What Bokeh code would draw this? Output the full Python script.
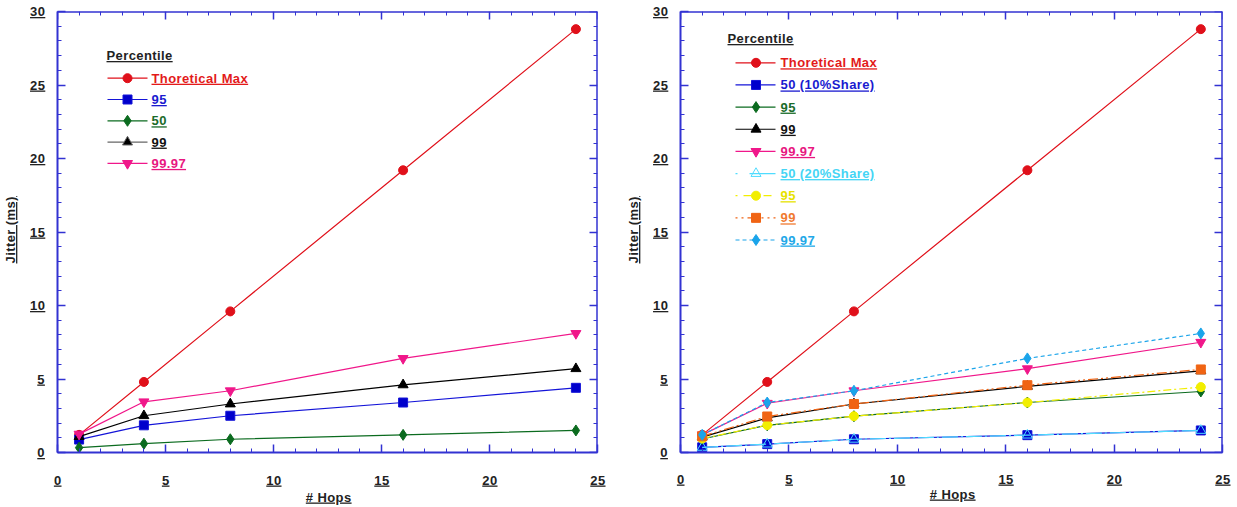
from bokeh.plotting import figure
from bokeh.models import Range1d, LinearAxis, SingleIntervalTicker, FixedTicker, CustomJS
from bokeh.layouts import row
from bokeh.document import Document
from bokeh.events import DocumentReady
from bokeh.embed import file_html
from bokeh.resources import INLINE
from bokeh.core.properties import value

# ---------------- data ----------------
hops = [1, 4, 8, 16, 24]
theoretical_max = [1.2, 4.8, 9.6, 19.2, 28.8]

# left chart
left_p95 = [0.88, 1.85, 2.5, 3.4, 4.4]
left_p50 = [0.33, 0.6, 0.9, 1.2, 1.5]
left_p99 = [1.08, 2.5, 3.3, 4.6, 5.7]
left_p9997 = [1.25, 3.45, 4.2, 6.4, 8.1]

# right chart, 10% share
r10_p50 = [0.35, 0.57, 0.9, 1.18, 1.5]
r10_p95 = [0.92, 1.85, 2.47, 3.4, 4.15]
r10_p99 = [1.05, 2.35, 3.3, 4.5, 5.55]
r10_p9997 = [1.2, 3.35, 4.2, 5.7, 7.5]
# right chart, 20% share
r20_p50 = [0.35, 0.57, 0.9, 1.18, 1.5]
r20_p95 = [0.95, 1.86, 2.47, 3.4, 4.45]
r20_p99 = [1.1, 2.45, 3.3, 4.58, 5.65]
r20_p9997 = [1.2, 3.4, 4.2, 6.4, 8.1]

x_title = "# Hops"
y_title = "Jitter (ms)"
legend_title = "Percentile"

# ---------------- style ----------------
FONT = "Liberation Sans"
AXIS_BLUE = "#3232d2"
DARK = "#222222"
FS_TICK = 13
FS_LEG = 13


def style_axis(ax):
    ax.axis_line_color = AXIS_BLUE
    ax.axis_line_width = 2
    ax.major_tick_line_color = AXIS_BLUE
    ax.major_tick_line_width = 1.5
    ax.minor_tick_line_color = AXIS_BLUE
    ax.minor_tick_line_width = 1
    ax.major_tick_in = 8
    ax.major_tick_out = 0
    ax.minor_tick_in = 4
    ax.minor_tick_out = 0
    ax.major_label_text_font = FONT
    ax.major_label_text_font_style = "bold"
    ax.major_label_text_color = DARK
    ax.major_label_text_font_size = f"{FS_TICK}px"
    ax.axis_label_text_font = FONT
    ax.axis_label_text_font_style = "bold"
    ax.axis_label_text_font_size = f"{FS_TICK}px"
    ax.axis_label_text_color = DARK


def mirror_axis(p, side, loc, positions, length):
    ax = LinearAxis(ticker=FixedTicker(ticks=[], minor_ticks=positions), fixed_location=loc)
    ax.axis_line_color = AXIS_BLUE
    ax.axis_line_width = 2
    ax.minor_tick_line_color = AXIS_BLUE
    ax.minor_tick_line_width = 1.5 if length > 5 else 1
    ax.minor_tick_in = length
    ax.minor_tick_out = 0
    ax.major_tick_in = 0
    ax.major_tick_out = 0
    ax.major_label_standoff = 0
    p.add_layout(ax, side)


def make_fig(fw, fh, left, top, right, bottom, xstand, xtitle_stand):
    p = figure(frame_width=fw, frame_height=fh, x_range=Range1d(0, 25), y_range=Range1d(0, 30),
               output_backend="svg", toolbar_location=None,
               min_border_left=left, min_border_top=top, min_border_right=right,
               min_border_bottom=bottom)
    p.outline_line_color = None
    p.grid.visible = False
    p.background_fill_color = "white"
    p.border_fill_color = "white"
    xa = p.xaxis[0]
    ya = p.yaxis[0]
    xa.ticker = SingleIntervalTicker(interval=5, num_minor_ticks=5)
    ya.ticker = SingleIntervalTicker(interval=5, num_minor_ticks=5)
    style_axis(xa)
    style_axis(ya)
    xa.major_label_standoff = xstand
    ya.major_label_standoff = 13
    xa.axis_label = x_title
    ya.axis_label = y_title
    xa.axis_label_standoff = xtitle_stand
    ya.axis_label_standoff = 9
    # mirrored tick marks on top and right edges (no labels)
    xs_minor = [v for v in range(0, 26) if v % 5]
    xs_major = [v for v in range(0, 26) if v % 5 == 0]
    ys_minor = [v for v in range(0, 31) if v % 5]
    ys_major = [v for v in range(0, 31) if v % 5 == 0]
    mirror_axis(p, "above", 30, xs_minor, 4)
    mirror_axis(p, "above", 30, xs_major, 8)
    mirror_axis(p, "right", 25, ys_minor, 4)
    mirror_axis(p, "right", 25, ys_major, 8)
    return p


def add_series(p, y, color, marker, size, fill, dash="solid"):
    p.line(hops, y, line_color=color, line_width=1.2, line_dash=dash)
    p.scatter(hops, y, marker=marker, size=size, fill_color=fill, line_color=color, line_width=1)


def add_legend(p, fw, fh, header, row0, step, lx0, lx1, mx, tx, entries):
    sx = 25.0 / fw
    sy = 30.0 / fh

    def X(px):
        return px * sx

    def Y(py):
        return 30 - py * sy

    def label(x, y, s, color):
        p.text(x=[X(x)], y=[Y(y)], text=[s], text_font=value(FONT), text_font_style="bold",
               text_font_size=f"{FS_LEG}px", text_color=color, text_align="left",
               text_baseline="middle")

    label(header[0], header[1], legend_title, DARK)
    for i, (lab, lcolor, tcolor, marker, size, fill, dash) in enumerate(entries):
        yy = row0 + step * i
        p.line([X(lx0), X(lx1)], [Y(yy), Y(yy)], line_color=lcolor, line_width=1.2, line_dash=dash)
        p.scatter([X(mx)], [Y(yy)], marker=marker, size=size, fill_color=fill, line_color=lcolor)
        label(tx, yy, lab, tcolor)


RED = "#e0101a"
BLUE = "#1414d8"
BLUE_F = "#0000cc"
GREEN = "#0b6b1f"
BLACK = "#000000"
PINK = "#f0178a"
CYAN = "#4fdcff"
YELLOW = "#f2ee00"
ORANGE = "#f06414"
SKY = "#1aa4ea"

# ---------------- left chart ----------------
LFW, LFH = 540, 441
pl = make_fig(LFW, LFH, 57, 11, 26, 55, 23, 2)
add_series(pl, theoretical_max, RED, "circle", 9, RED)
add_series(pl, left_p95, BLUE, "square", 9, BLUE_F)
add_series(pl, left_p50, GREEN, "diamond", 11, GREEN)
add_series(pl, left_p99, BLACK, "triangle", 10, BLACK)
add_series(pl, left_p9997, PINK, "inverted_triangle", 10, PINK)
add_legend(pl, LFW, LFH, (49, 44), 66.7, 21.3, 50, 90, 70, 94, [
    ("Thoretical Max", RED, "#e31a1a", "circle", 9, RED, "solid"),
    ("95", BLUE, "#1a1ad0", "square", 9, BLUE_F, "solid"),
    ("50", GREEN, "#1a6b2a", "diamond", 11, GREEN, "solid"),
    ("99", "#666666", "#111111", "triangle", 10, BLACK, "solid"),
    ("99.97", PINK, "#e8177f", "inverted_triangle", 10, PINK, "solid"),
])

# ---------------- right chart ----------------
RFW, RFH = 542, 441
pr = make_fig(RFW, RFH, 57, 8, 15, 58, 22, 0)
add_series(pr, theoretical_max, RED, "circle", 9, RED)
add_series(pr, r10_p50, BLUE, "square", 9, BLUE_F)
add_series(pr, r10_p95, GREEN, "diamond", 11, GREEN)
add_series(pr, r10_p99, BLACK, "triangle", 10, BLACK)
add_series(pr, r10_p9997, PINK, "inverted_triangle", 10, PINK)
add_series(pr, r20_p50, CYAN, "triangle", 10, None, "16 3 2 3")
add_series(pr, r20_p95, YELLOW, "circle", 9, YELLOW, "8 3 2 3")
add_series(pr, r20_p99, ORANGE, "square", 9, ORANGE, "10 3 2 3 2 3")
add_series(pr, r20_p9997, SKY, "diamond", 11, SKY, "4 3")
add_legend(pr, RFW, RFH, (47, 27), 51.3, 22.15, 55, 95, 75.5, 100, [
    ("Thoretical Max", RED, "#e31a1a", "circle", 9, RED, "solid"),
    ("50 (10%Share)", BLUE, "#1a1ad0", "square", 9, BLUE_F, "solid"),
    ("95", GREEN, "#1a6b2a", "diamond", 11, GREEN, "solid"),
    ("99", BLACK, "#111111", "triangle", 10, BLACK, "solid"),
    ("99.97", PINK, "#e8177f", "inverted_triangle", 10, PINK, "solid"),
    ("50 (20%Share)", CYAN, "#45d5f5", "triangle", 10, None, "2 12 30 0"),
    ("95", YELLOW, "#e6e200", "circle", 9, YELLOW, "2 6 8 4"),
    ("99", ORANGE, "#f07a30", "square", 9, ORANGE, "2 4 2 4 10 4"),
    ("99.97", SKY, "#22a8e8", "diamond", 11, SKY, "4 3"),
])

layout = row(pl, pr)

# The original chart underlines every text (with slightly open letter spacing):
# apply that to the SVG texts once they are drawn.
underline_js = """
function walk(root) {
  const els = root.querySelectorAll('*');
  for (const el of els) {
    if (el.shadowRoot) walk(el.shadowRoot);
    if (el.tagName && el.tagName.toLowerCase() === 'text') {
      el.setAttribute('text-decoration', 'underline');
      el.style.textDecoration = 'underline';
      el.style.letterSpacing = '0.4px';
    }
  }
}
function run() { try { walk(document); } catch (e) {} }
run();
requestAnimationFrame(run);
setTimeout(run, 50);
setTimeout(run, 300);
setTimeout(run, 1000);
"""

doc = Document()
doc.add_root(layout)
doc.js_on_event(DocumentReady, CustomJS(code=underline_js))
open("out.html", "w").write(file_html(doc, INLINE))
